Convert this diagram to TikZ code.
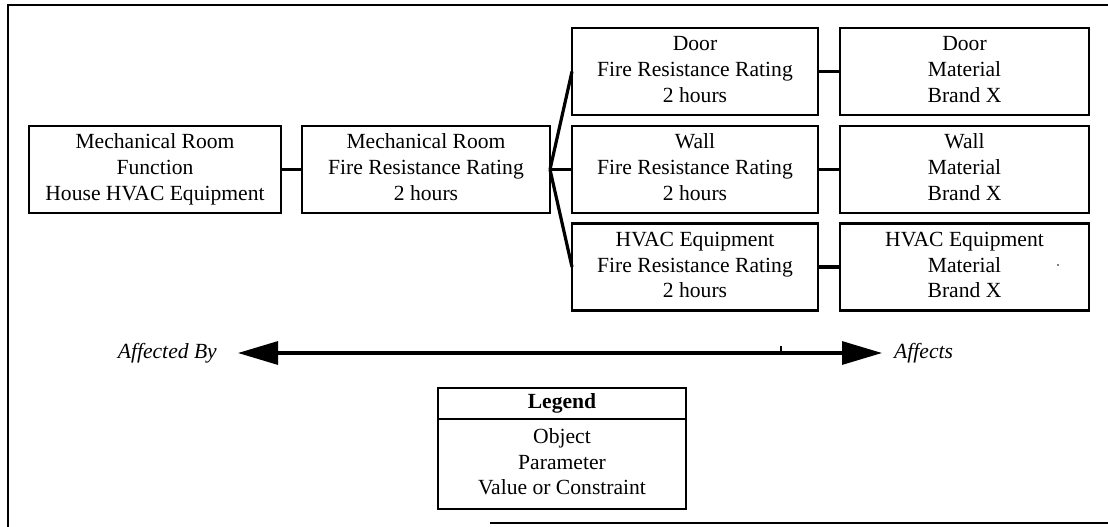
\documentclass[tikz,border=0pt]{standalone}
\usepackage{fontspec}
\setmainfont{Liberation Serif}
\usetikzlibrary{arrows.meta}
\newcommand\boxfont{\fontsize{21.6}{25.8}\selectfont}
\newcommand\threelines[3]{\strut #1\\ #2\\ #3\strut}
\tikzset{
  box/.style={draw, line width=2.9pt, inner sep=0pt, outer sep=0pt, align=center,
    minimum width=249pt, minimum height=87pt, font=\boxfont},
  link/.style={line width=3.2pt},
  frameline/.style={line width=2.2pt},
  sidelabel/.style={font=\boxfont\itshape, inner sep=0pt},
  bigtip/.tip={Triangle[length=40pt,width=23pt]}
}
\begin{document}
\begin{tikzpicture}[x=1pt,y=-1pt]
  \useasboundingbox (0,0) rectangle (1108,527);

  % page frame (open on the right)
  \draw[frameline] (1108,5) -- (8,5) -- (8,527);
  \draw[frameline] (490,523) -- (1108,523);

  % parameter boxes
  \node[box, minimum width=252pt] (func) at (155,169.5)
    {\threelines{Mechanical Room}{Function}{House HVAC Equipment}};
  \node[box, minimum width=248pt] (room) at (426,169.5)
    {\threelines{Mechanical Room}{Fire Resistance Rating}{2 hours}};

  \node[box, minimum width=246pt] (door) at (695,71.5)
    {\threelines{Door}{Fire Resistance Rating}{2 hours}};
  \node[box, minimum width=246pt] (wall) at (695,169.5)
    {\threelines{Wall}{Fire Resistance Rating}{2 hours}};
  \node[box, minimum width=246pt] (hvac) at (695,267)
    {\threelines{HVAC Equipment}{Fire Resistance Rating}{2 hours}};

  \node[box] (doormat) at (964.5,71.5)
    {\threelines{Door}{Material}{Brand X}};
  \node[box] (wallmat) at (964.5,169.5)
    {\threelines{Wall}{Material}{Brand X}};
  \node[box] (hvacmat) at (964.5,267)
    {\threelines{HVAC Equipment}{Material}{Brand X}};

  % dependency links
  \draw[link] (func.east) -- (room.west);
  \draw[link] (room.east) -- (door.west);
  \draw[link] (room.east) -- (wall.west);
  \draw[link] (room.east) -- (hvac.west);
  \draw[link] (door.east) -- (doormat.west);
  \draw[link] (wall.east) -- (wallmat.west);
  \draw[link] (hvac.east) -- (hvacmat.west);

  % direction of influence
  \coordinate (leftend) at (238,353);
  \coordinate (rightend) at (882,353);
  \draw[link, bigtip-bigtip] (leftend) -- (rightend);
  \draw[line width=2pt] (781,346) -- (781,352);
  \fill (1058,265) circle (0.9pt);
  \node[sidelabel, anchor=east] (byl) at ([xshift=-21pt]leftend) {Affected By};
  \node[sidelabel, anchor=west] (afl) at ([xshift=12pt]rightend) {Affects};

  % legend
  \node[box, minimum width=248pt, minimum height=31pt] (leghead) at (562,403.5)
    {\bfseries Legend};
  \node[box, minimum width=248pt, minimum height=90pt, anchor=north] (legbody)
    at (leghead.south) {\threelines{Object}{Parameter}{Value or Constraint}};
\end{tikzpicture}
\end{document}
